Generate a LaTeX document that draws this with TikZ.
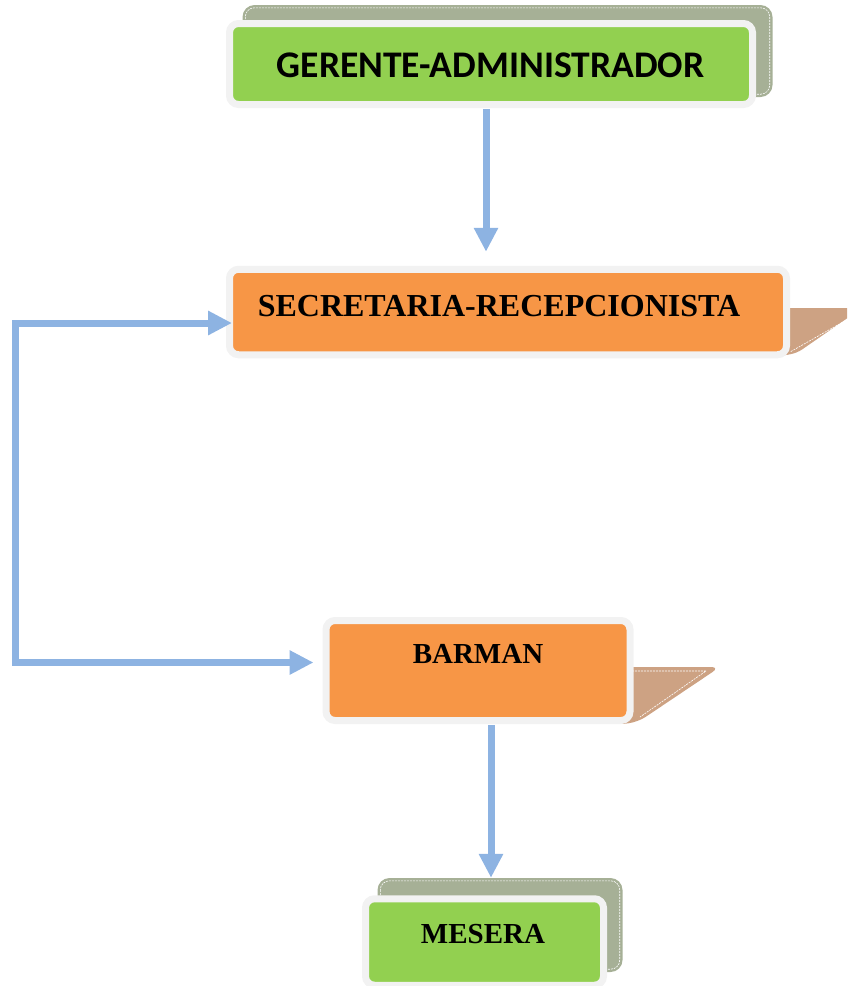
\documentclass[tikz,border=0pt]{standalone}
\usepackage{fontspec}
\setmainfont{Liberation Serif}
\newfontfamily\calib{Carlito}
\usetikzlibrary{arrows.meta}
\definecolor{arrowblue}{HTML}{8DB3E2}
\definecolor{boxorange}{HTML}{F79646}
\definecolor{boxgreen}{HTML}{92D050}
\definecolor{rimgrey}{HTML}{F2F2F2}
\definecolor{olive}{HTML}{A6B096}
\definecolor{tanfold}{HTML}{CDA283}
\tikzset{
  frontbox/.style={draw=rimgrey, line width=7pt, rounded corners=9pt, inner sep=0pt},
  greenbox/.style={frontbox, fill=boxgreen},
  orangebox/.style={frontbox, fill=boxorange},
  backbox/.style={fill=olive, rounded corners=12pt, inner sep=0pt, draw=none},
  backline/.style={draw=white, line width=0.6pt, dash pattern=on 2pt off 1pt, rounded corners=9pt},
  foldline/.style={draw=white, line width=0.6pt, dash pattern=on 2pt off 1pt},
  conn/.style={draw=arrowblue, line width=7pt, -{Triangle[width=23pt,length=24pt]}},
  conn2/.style={draw=arrowblue, line width=7pt, {Triangle[width=23pt,length=24pt]}-{Triangle[width=23pt,length=24pt]}},
  lbl/.style={anchor=base, inner sep=0pt, text=black, font=\bfseries}
}
\begin{document}
\begin{tikzpicture}[x=1pt,y=-1pt]
\useasboundingbox (0,0) rectangle (847,986);
\clip (0,0) rectangle (847,986);

% back shadow boxes
\node[backbox, minimum width=530pt, minimum height=92pt] (gershadow) at (507.5,51) {};
\draw[backline] ([shift={(3pt,-3pt)}]gershadow.north west) rectangle ([shift={(-3pt,3pt)}]gershadow.south east);
\node[backbox, minimum width=245pt, minimum height=94pt] (messhadow) at (500,925) {};
\draw[backline] ([shift={(3pt,-3pt)}]messhadow.north west) rectangle ([shift={(-3pt,3pt)}]messhadow.south east);

% folded tan tabs
\fill[tanfold, rounded corners=6pt] (770,308) -- (862,308) -- (797,353) -- (770,358) -- cycle;
\draw[foldline] (850,318) -- (790,352);
\fill[tanfold, rounded corners=9pt] (615,667) -- (720,667) -- (638,722) -- (615,725) -- cycle;
\draw[foldline] (632,671) -- (706,671) -- (640,717);

% front boxes
\node[greenbox, minimum width=523pt, minimum height=81pt] (ger) at (491,64) {};
\node[orangebox, minimum width=557pt, minimum height=85.5pt] (sec) at (508,312) {};
\node[orangebox, minimum width=304pt, minimum height=100pt] (bar) at (478,670.5) {};
\node[greenbox, minimum width=238pt, minimum height=86.5pt] (mes) at (484.5,942) {};

% labels
\node[lbl, font=\calib\bfseries\fontsize{37.6}{42}\selectfont] (gertext) at (490.5,77.5) {GERENTE-ADMINISTRADOR};
\node[lbl, font=\bfseries\fontsize{32}{36}\selectfont] (sectext) at (499,316) {SECRETARIA-RECEPCIONISTA};
\node[lbl, font=\bfseries\fontsize{29}{32}\selectfont] (bartext) at (478,663) {BARMAN};
\node[lbl, font=\bfseries\fontsize{29}{32}\selectfont] (mestext) at (483,943) {MESERA};

% connectors
\coordinate (loopTop) at (15.5,323);
\coordinate (loopBot) at (15.5,662.5);
\draw[conn] ([xshift=-5pt,yshift=-1pt]ger.south) -- ([xshift=-5pt,yshift=14pt]ger.south |- sec.north);
\draw[conn] ([xshift=13pt,yshift=-1pt]bar.south) -- ([xshift=13pt]bar.south |- messhadow.north);
\draw[conn2] ([xshift=6pt]sec.west |- loopTop) -- (loopTop) -- (loopBot) -- ([xshift=-9pt]bar.west |- loopBot);
\end{tikzpicture}
\end{document}
